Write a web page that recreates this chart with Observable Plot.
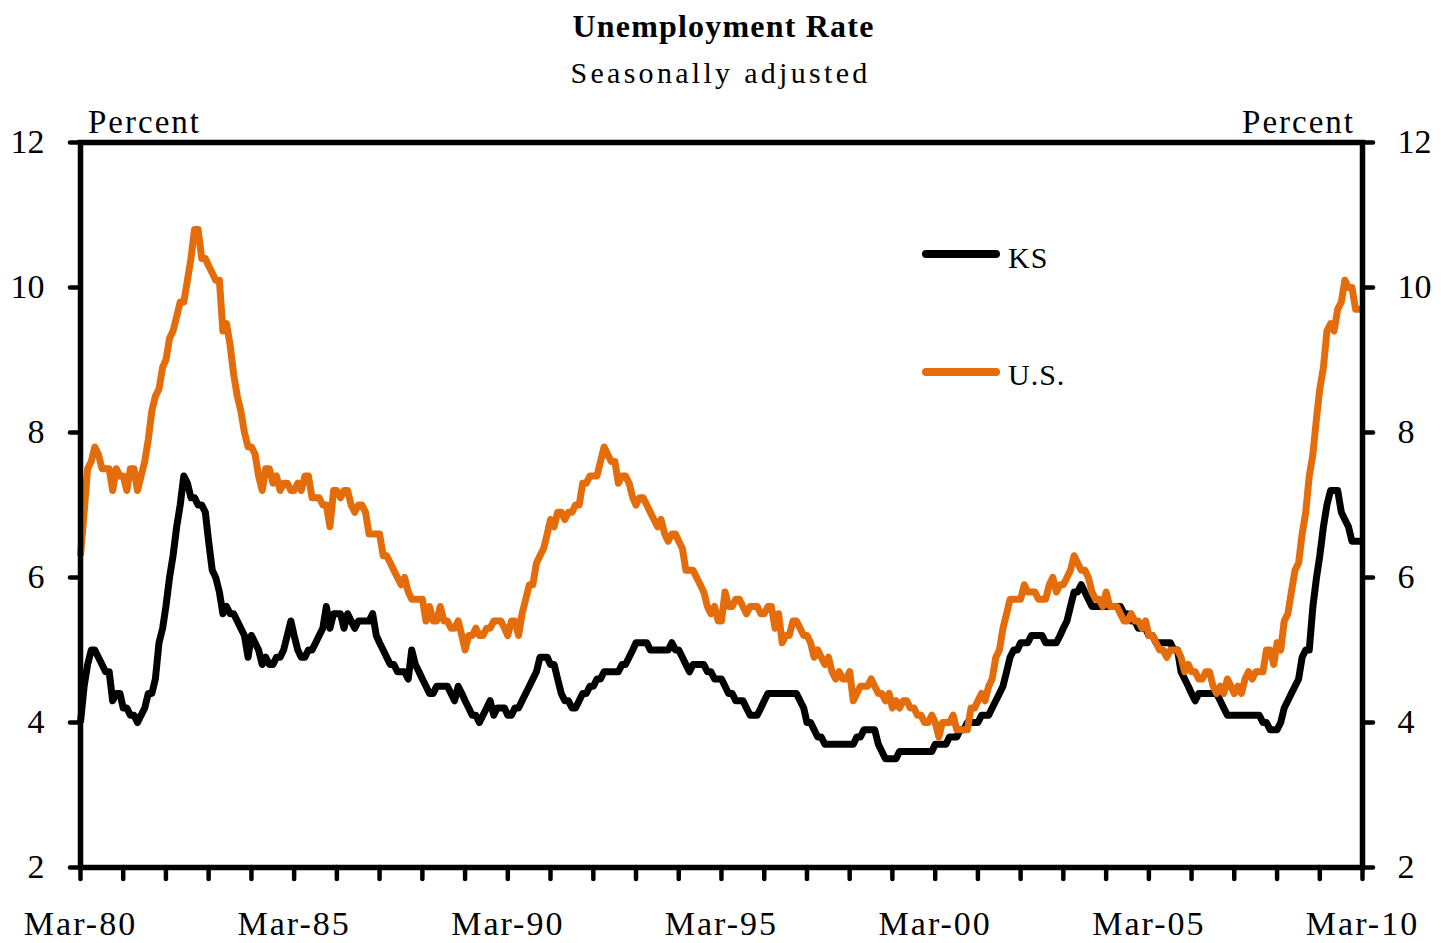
<!DOCTYPE html>
<html>
<head>
<meta charset="utf-8">
<script src="https://cdn.jsdelivr.net/npm/d3@7"></script>
<script src="https://cdn.jsdelivr.net/npm/@observablehq/plot@0.6"></script>
<style>
  body { margin: 0; background: #fff; }
  #wrap { position: relative; width: 1441px; height: 943px; font-family: "Liberation Serif", "Times New Roman", serif; color: #000; overflow: hidden; }
  .abs { position: absolute; line-height: 1; white-space: nowrap; z-index: 2; }
  #title { top: 10px; left: 3px; width: 1441px; text-align: center; font-size: 32px; font-weight: bold; letter-spacing: 1.2px; }
  #subtitle { top: 58px; left: 0; width: 1441px; text-align: center; font-size: 30px; letter-spacing: 3.3px; }
  .pct { font-size: 33px; letter-spacing: 2px; top: 106px; }
  #chart { position: absolute; left: 0; top: 100px; z-index: 1; }
  .sw { position: absolute; left: 922px; width: 78px; height: 8px; border-radius: 4px; z-index: 2; }
  .lg { font-size: 30px; left: 1008px; letter-spacing: 1px; }
  #chart g[aria-label="x-axis tick label"] text { letter-spacing: 2px; }
</style>
</head>
<body>
<div id="wrap">
  <div id="chart"></div>
  <div id="title" class="abs">Unemployment Rate</div>
  <div id="subtitle" class="abs">Seasonally adjusted</div>
  <div class="abs pct" style="left:88px;">Percent</div>
  <div class="abs pct" style="right:86px;">Percent</div>
  <div class="sw" style="top:250px;background:#000;"></div>
  <div class="abs lg" style="top:243px;">KS</div>
  <div class="sw" style="top:368px;background:#E46C0A;"></div>
  <div class="abs lg" style="top:360px;">U.S.</div>
</div>
<script>
// Monthly series, starting March 1980 (each row = Mar..Feb of the next year)
const startMonth = new Date(Date.UTC(1980, 2, 1));

const ksRate = [
  4.0, 4.5, 4.8, 5.0, 5.0, 4.9, 4.8, 4.7, 4.7, 4.3, 4.4, 4.4, // 1980
  4.2, 4.2, 4.1, 4.1, 4.0, 4.1, 4.2, 4.4, 4.4, 4.6, 5.1, 5.3, // 1981
  5.6, 6.0, 6.3, 6.7, 7.0, 7.4, 7.3, 7.1, 7.1, 7.0, 7.0, 6.9, // 1982
  6.5, 6.1, 6.0, 5.8, 5.5, 5.6, 5.5, 5.5, 5.4, 5.3, 5.2, 4.9, // 1983
  5.2, 5.1, 5.0, 4.8, 4.9, 4.8, 4.8, 4.9, 4.9, 5.0, 5.2, 5.4, // 1984
  5.2, 5.0, 4.9, 4.9, 5.0, 5.0, 5.1, 5.2, 5.3, 5.6, 5.3, 5.5, // 1985
  5.5, 5.5, 5.3, 5.5, 5.4, 5.3, 5.4, 5.4, 5.4, 5.4, 5.5, 5.2, // 1986
  5.1, 5.0, 4.9, 4.8, 4.8, 4.7, 4.7, 4.7, 4.6, 5.0, 4.8, 4.7, // 1987
  4.6, 4.5, 4.4, 4.4, 4.5, 4.5, 4.5, 4.5, 4.4, 4.3, 4.5, 4.4, // 1988
  4.3, 4.2, 4.1, 4.1, 4.0, 4.1, 4.2, 4.3, 4.1, 4.2, 4.2, 4.2, // 1989
  4.1, 4.1, 4.2, 4.2, 4.3, 4.4, 4.5, 4.6, 4.7, 4.9, 4.9, 4.9, // 1990
  4.8, 4.8, 4.6, 4.4, 4.3, 4.3, 4.2, 4.2, 4.3, 4.4, 4.4, 4.5, // 1991
  4.5, 4.6, 4.6, 4.7, 4.7, 4.7, 4.7, 4.7, 4.8, 4.8, 4.9, 5.0, // 1992
  5.1, 5.1, 5.1, 5.1, 5.0, 5.0, 5.0, 5.0, 5.0, 5.0, 5.1, 5.0, // 1993
  5.0, 4.9, 4.8, 4.7, 4.8, 4.8, 4.8, 4.8, 4.7, 4.7, 4.6, 4.6, // 1994
  4.6, 4.5, 4.4, 4.4, 4.3, 4.3, 4.3, 4.2, 4.1, 4.1, 4.1, 4.2, // 1995
  4.3, 4.4, 4.4, 4.4, 4.4, 4.4, 4.4, 4.4, 4.4, 4.4, 4.3, 4.2, // 1996
  4.0, 4.0, 3.9, 3.8, 3.8, 3.7, 3.7, 3.7, 3.7, 3.7, 3.7, 3.7, // 1997
  3.7, 3.7, 3.8, 3.8, 3.9, 3.9, 3.9, 3.9, 3.7, 3.6, 3.5, 3.5, // 1998
  3.5, 3.5, 3.6, 3.6, 3.6, 3.6, 3.6, 3.6, 3.6, 3.6, 3.6, 3.6, // 1999
  3.7, 3.7, 3.7, 3.7, 3.8, 3.8, 3.8, 3.9, 3.9, 4.0, 4.0, 4.0, // 2000
  4.0, 4.1, 4.1, 4.1, 4.2, 4.3, 4.4, 4.5, 4.7, 4.9, 5.0, 5.0, // 2001
  5.1, 5.1, 5.1, 5.2, 5.2, 5.2, 5.2, 5.1, 5.1, 5.1, 5.1, 5.2, // 2002
  5.3, 5.4, 5.6, 5.8, 5.8, 5.9, 5.8, 5.7, 5.6, 5.6, 5.6, 5.6, // 2003
  5.6, 5.6, 5.6, 5.6, 5.6, 5.5, 5.5, 5.4, 5.4, 5.3, 5.3, 5.3, // 2004
  5.2, 5.2, 5.1, 5.1, 5.1, 5.1, 5.1, 5.0, 5.0, 4.7, 4.6, 4.5, // 2005
  4.4, 4.3, 4.4, 4.4, 4.4, 4.4, 4.4, 4.4, 4.3, 4.2, 4.1, 4.1, // 2006
  4.1, 4.1, 4.1, 4.1, 4.1, 4.1, 4.1, 4.1, 4.0, 4.0, 3.9, 3.9, // 2007
  3.9, 4.0, 4.2, 4.3, 4.4, 4.5, 4.6, 4.9, 5.0, 5.0, 5.6, 6.0, // 2008
  6.3, 6.7, 7.0, 7.2, 7.2, 7.2, 6.9, 6.8, 6.7, 6.5, 6.5, 6.5, // 2009
  6.5                                                          // Mar 2010
];

const usRate = [
  6.3, 6.9, 7.5, 7.6, 7.8, 7.7, 7.5, 7.5, 7.5, 7.2, 7.5, 7.4,       // 1980
  7.4, 7.2, 7.5, 7.5, 7.2, 7.4, 7.6, 7.9, 8.3, 8.5, 8.6, 8.9,       // 1981
  9.0, 9.3, 9.4, 9.6, 9.8, 9.8, 10.1, 10.4, 10.8, 10.8, 10.4, 10.4, // 1982
  10.3, 10.2, 10.1, 10.1, 9.4, 9.5, 9.2, 8.8, 8.5, 8.3, 8.0, 7.8,   // 1983
  7.8, 7.7, 7.4, 7.2, 7.5, 7.5, 7.3, 7.4, 7.2, 7.3, 7.3, 7.2,       // 1984
  7.2, 7.3, 7.2, 7.4, 7.4, 7.1, 7.1, 7.1, 7.0, 7.0, 6.7, 7.2,       // 1985
  7.2, 7.1, 7.2, 7.2, 7.0, 6.9, 7.0, 7.0, 6.9, 6.6, 6.6, 6.6,       // 1986
  6.6, 6.3, 6.3, 6.2, 6.1, 6.0, 5.9, 6.0, 5.8, 5.7, 5.7, 5.7,       // 1987
  5.7, 5.4, 5.6, 5.4, 5.4, 5.6, 5.4, 5.4, 5.3, 5.3, 5.4, 5.2,       // 1988
  5.0, 5.2, 5.2, 5.3, 5.2, 5.2, 5.3, 5.3, 5.4, 5.4, 5.4, 5.3,       // 1989
  5.2, 5.4, 5.4, 5.2, 5.5, 5.7, 5.9, 5.9, 6.2, 6.3, 6.4, 6.6,       // 1990
  6.8, 6.7, 6.9, 6.9, 6.8, 6.9, 6.9, 7.0, 7.0, 7.3, 7.3, 7.4,       // 1991
  7.4, 7.4, 7.6, 7.8, 7.7, 7.6, 7.6, 7.3, 7.4, 7.4, 7.3, 7.1,       // 1992
  7.0, 7.1, 7.1, 7.0, 6.9, 6.8, 6.7, 6.8, 6.6, 6.5, 6.6, 6.6,       // 1993
  6.5, 6.4, 6.1, 6.1, 6.1, 6.0, 5.9, 5.8, 5.6, 5.5, 5.6, 5.4,       // 1994
  5.4, 5.8, 5.6, 5.6, 5.7, 5.7, 5.6, 5.5, 5.6, 5.6, 5.6, 5.5,       // 1995
  5.5, 5.6, 5.6, 5.3, 5.5, 5.1, 5.2, 5.2, 5.4, 5.4, 5.3, 5.2,       // 1996
  5.2, 5.1, 4.9, 5.0, 4.9, 4.8, 4.9, 4.7, 4.6, 4.7, 4.6, 4.6,       // 1997
  4.7, 4.3, 4.4, 4.5, 4.5, 4.5, 4.6, 4.5, 4.4, 4.4, 4.3, 4.4,       // 1998
  4.2, 4.3, 4.2, 4.3, 4.3, 4.2, 4.2, 4.1, 4.1, 4.0, 4.0, 4.1,       // 1999
  4.0, 3.8, 4.0, 4.0, 4.0, 4.1, 3.9, 3.9, 3.9, 3.9, 4.2, 4.2,       // 2000
  4.3, 4.4, 4.3, 4.5, 4.6, 4.9, 5.0, 5.3, 5.5, 5.7, 5.7, 5.7,       // 2001
  5.7, 5.9, 5.8, 5.8, 5.8, 5.7, 5.7, 5.7, 5.9, 6.0, 5.8, 5.9,       // 2002
  5.9, 6.0, 6.1, 6.3, 6.2, 6.1, 6.1, 6.0, 5.8, 5.7, 5.7, 5.6,       // 2003
  5.8, 5.6, 5.6, 5.6, 5.5, 5.4, 5.4, 5.5, 5.4, 5.4, 5.3, 5.4,       // 2004
  5.2, 5.2, 5.1, 5.0, 5.0, 4.9, 5.0, 5.0, 5.0, 4.9, 4.7, 4.8,       // 2005
  4.7, 4.7, 4.6, 4.6, 4.7, 4.7, 4.5, 4.4, 4.5, 4.4, 4.6, 4.5,       // 2006
  4.4, 4.5, 4.4, 4.6, 4.7, 4.6, 4.7, 4.7, 4.7, 5.0, 5.0, 4.8,       // 2007
  5.1, 5.0, 5.4, 5.5, 5.8, 6.1, 6.2, 6.6, 6.9, 7.4, 7.7, 8.2,       // 2008
  8.6, 8.9, 9.4, 9.5, 9.4, 9.7, 9.8, 10.1, 10.0, 10.0, 9.7, 9.7,    // 2009
  9.7                                                                // Mar 2010
];

const seriesNames = ["KS", "U.S."];
const seriesColors = ["#000000", "#E46C0A"];
const yTickValues = [2, 4, 6, 8, 10, 12];
const tickYears = d3.range(1980, 2011);          // a tick every March
const labelYears = [1980, 1985, 1990, 1995, 2000, 2005, 2010];

const monthDates = ksRate.map((_, i) => d3.utcMonth.offset(startMonth, i));
const rows = [
  ...ksRate.map((v, i) => ({date: monthDates[i], rate: v, series: seriesNames[0]})),
  ...usRate.map((v, i) => ({date: monthDates[i], rate: v, series: seriesNames[1]}))
];
const marchOf = y => new Date(Date.UTC(y, 2, 1));
const fmt = d => "Mar-" + String(d.getUTCFullYear() % 100).padStart(2, "0");

const chart = Plot.plot({
  width: 1441,
  height: 843,
  marginTop: 42,
  marginBottom: 76,
  marginLeft: 80,
  marginRight: 79,
  style: {fontFamily: '"Liberation Serif", "Times New Roman", serif', fontSize: "34px", color: "#000", background: "#fff", overflow: "visible"},
  x: {type: "utc", domain: [monthDates[0], monthDates[monthDates.length - 1]]},
  y: {domain: [2, 12]},
  color: {domain: seriesNames, range: seriesColors},
  marks: [
    Plot.axisX({ticks: tickYears.map(marchOf), tickSize: 12, strokeWidth: 4.5, strokeLinecap: "round", tickFormat: () => ""}),
    Plot.axisX({ticks: labelYears.map(marchOf), tickSize: 0, tickPadding: 43, tickFormat: fmt, fontSize: 34}),
    Plot.axisY({anchor: "left", ticks: yTickValues, tickSize: 10, tickPadding: 26, strokeWidth: 4.5, strokeLinecap: "round", fontSize: 34, label: null}),
    Plot.axisY({anchor: "right", ticks: yTickValues, tickSize: 10, tickPadding: 25, strokeWidth: 4.5, strokeLinecap: "round", fontSize: 34, label: null}),
    Plot.line(rows, {x: "date", y: "rate", z: "series", stroke: "series", strokeWidth: 7, strokeLinejoin: "round", strokeLinecap: "butt"}),
    Plot.frame({stroke: "#000", strokeWidth: 5.5})
  ]
});
document.getElementById("chart").appendChild(chart);
</script>
</body>
</html>
